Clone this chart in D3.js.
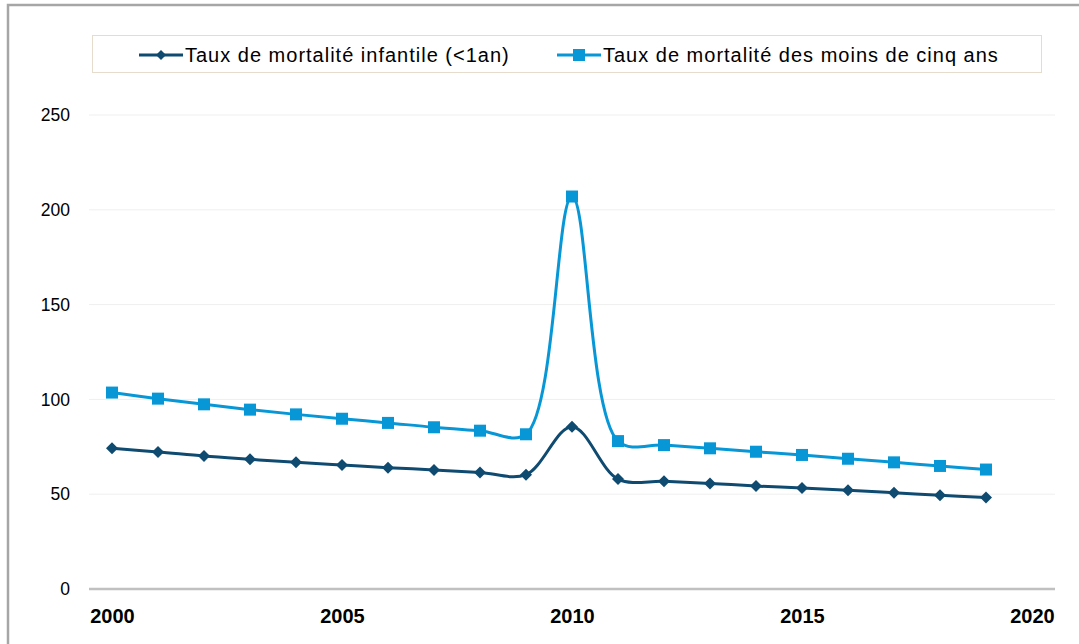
<!DOCTYPE html>
<html>
<head>
<meta charset="utf-8">
<script src="https://cdn.jsdelivr.net/npm/d3@7"></script>
<style>
  html, body { margin: 0; padding: 0; background: #fff; overflow: hidden; }
  svg { display: block; font-family: "Liberation Sans", Arial, sans-serif; }
</style>
</head>
<body>
<div id="chart-wrap"></div>
<script>
const width = 1079;
const height = 644;

const years = d3.range(2000, 2020);
const infant = [74.2, 72.3, 70.1, 68.4, 66.8, 65.4, 64.0, 62.8, 61.5, 60.3,
                85.6, 58.0, 56.8, 55.7, 54.3, 53.3, 52.1, 50.8, 49.4, 48.2];
const underFive = [103.6, 100.4, 97.4, 94.6, 92.1, 89.8, 87.6, 85.3, 83.5, 81.6,
                   207, 78.0, 75.9, 74.2, 72.4, 70.7, 68.7, 66.8, 64.9, 63.0];
const yTicks = [0, 50, 100, 150, 200, 250];
const xTicks = [2000, 2005, 2010, 2015, 2020];
const seriesNames = ["Taux de mortalité infantile (<1an)", "Taux de mortalité des moins de cinq ans"];

const darkBlue = "#0f4a70";
const lightBlue = "#0897d6";

const svg = d3.select('#chart-wrap')
    .append('svg')
    .attr('width', width)
    .attr('height', height);

// outer frame (cut off at right and bottom)
svg.append('rect')
    .attr('x', 8).attr('y', 5)
    .attr('width', width + 20).attr('height', height + 20)
    .attr('fill', '#fff')
    .attr('stroke', '#a6a6a6')
    .attr('stroke-width', 2.5);

const x = d3.scaleLinear()
    .domain([1999.5, 2020.5])
    .range([89, 1055]);

const y = d3.scaleLinear()
    .domain([0, 250])
    .range([589, 115]);

// gridlines
svg.append('g')
    .selectAll('line')
    .data(yTicks.filter(d => d > 0))
    .enter()
    .append('line')
        .attr('x1', x.range()[0]).attr('x2', x.range()[1])
        .attr('y1', d => y(d)).attr('y2', d => y(d))
        .attr('stroke', '#efefef')
        .attr('stroke-width', 1);

function yAxis(g){
    g.attr('transform', `translate(70, 0)`)
        .call(d3.axisLeft(y).tickValues(yTicks).tickSize(0).tickPadding(0))
        .call(g => g.select('.domain').remove())
        .selectAll('text')
        .attr('font-size', '17.5px')
        .attr('font-family', '"Liberation Sans", Arial, sans-serif')
        .attr('fill', '#000');
}

function xAxis(g){
    g.attr('transform', `translate(0, ${y(0)})`)
        .call(d3.axisBottom(x).tickValues(xTicks).tickFormat(d3.format('d')).tickSize(0).tickPadding(20))
        .call(g => g.select('.domain').attr('stroke', '#c0c0c0').attr('stroke-width', 2.5)
            .attr('d', `M${x.range()[0]},0H${x.range()[1]}`))
        .selectAll('text')
        .attr('font-size', '20px')
        .attr('font-weight', 'bold')
        .attr('font-family', '"Liberation Sans", Arial, sans-serif')
        .attr('fill', '#000');
}

svg.append('g').call(yAxis);
svg.append('g').call(xAxis);

const line = d3.line()
    .x((d, i) => x(years[i]))
    .y(d => y(d))
    .curve(d3.curveCatmullRom.alpha(0.5));

// under five series
svg.append('path')
    .datum(underFive)
    .attr('d', line)
    .attr('fill', 'none')
    .attr('stroke', lightBlue)
    .attr('stroke-width', 3);

svg.append('g')
    .selectAll('rect')
    .data(underFive)
    .enter()
    .append('rect')
        .attr('x', (d, i) => x(years[i]) - 6)
        .attr('y', d => y(d) - 6)
        .attr('width', 12)
        .attr('height', 12)
        .attr('fill', lightBlue);

// infant series
svg.append('path')
    .datum(infant)
    .attr('d', line)
    .attr('fill', 'none')
    .attr('stroke', darkBlue)
    .attr('stroke-width', 3);

svg.append('g')
    .selectAll('path')
    .data(infant)
    .enter()
    .append('path')
        .attr('d', 'M0,-6L6,0L0,6L-6,0Z')
        .attr('transform', (d, i) => `translate(${x(years[i])}, ${y(d)})`)
        .attr('fill', darkBlue);

// legend
const legend = svg.append('g');
legend.append('rect')
    .attr('x', 92.5).attr('y', 35.5)
    .attr('width', 949).attr('height', 37)
    .attr('fill', '#fff')
    .attr('stroke', '#e6dccb')
    .attr('stroke-width', 1);

const legendItems = [
    {name: seriesNames[0], color: darkBlue, x: 139, shape: 'diamond'},
    {name: seriesNames[1], color: lightBlue, x: 557, shape: 'square'}
];

legendItems.forEach(item => {
    const g = legend.append('g').attr('transform', `translate(${item.x}, 55)`);
    g.append('line')
        .attr('x1', 0).attr('x2', 44)
        .attr('stroke', item.color)
        .attr('stroke-width', 3);
    if (item.shape === 'diamond') {
        g.append('path').attr('d', 'M22,-5L27,0L22,5L17,0Z').attr('fill', item.color);
    } else {
        g.append('rect').attr('x', 16).attr('y', -6).attr('width', 12).attr('height', 12).attr('fill', item.color);
    }
    g.append('text')
        .attr('x', 46)
        .attr('y', 7)
        .attr('font-size', '20px')
        .attr('letter-spacing', '1px')
        .attr('fill', '#000')
        .text(item.name);
});
</script>
</body>
</html>
